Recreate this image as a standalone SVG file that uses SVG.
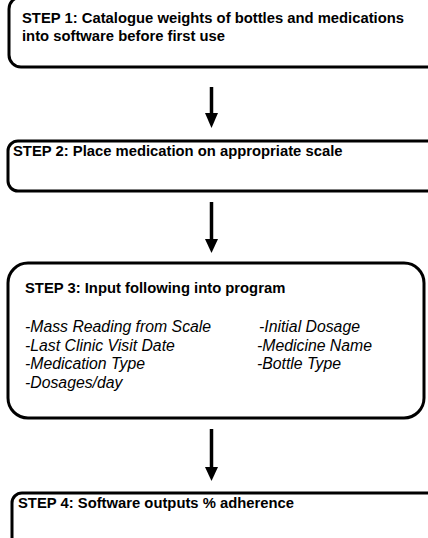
<svg xmlns="http://www.w3.org/2000/svg" width="428" height="538" viewBox="0 0 428 538">
<style>
.box{fill:#fff;stroke:#000;stroke-width:3}
.h{font-family:"Liberation Sans",Arial,sans-serif;font-size:14.8px;font-weight:bold;fill:#000}
.i{font-family:"Liberation Sans",Arial,sans-serif;font-size:15.8px;font-style:italic;fill:#000}
.ln{stroke:#000;stroke-width:3.5;fill:none}
</style>
<rect width="428" height="538" fill="#fff"/>
<g id="step1">
<rect class="box" x="9" y="-3" width="440" height="70" rx="12"/>
<text class="h" x="22" y="23">STEP 1: Catalogue weights of bottles and medications</text>
<text class="h" x="22" y="41">into software before first use</text>
</g>
<g id="step2">
<rect class="box" x="8" y="141" width="440" height="50" rx="10"/>
<text class="h" x="13" y="156">STEP 2: Place medication on appropriate scale</text>
</g>
<g id="step3">
<rect class="box" x="8" y="263" width="416" height="155" rx="20"/>
<text class="h" x="25" y="292.5">STEP 3: Input following into program</text>
<text class="i" x="25" y="332">-Mass Reading from Scale</text>
<text class="i" x="25" y="350.5">-Last Clinic Visit Date</text>
<text class="i" x="25" y="369">-Medication Type</text>
<text class="i" x="25" y="387.5">-Dosages/day</text>
<text class="i" x="259" y="332">-Initial Dosage</text>
<text class="i" x="257" y="350.5">-Medicine Name</text>
<text class="i" x="257" y="369">-Bottle Type</text>
</g>
<g id="step4">
<rect class="box" x="12" y="493" width="440" height="80" rx="10"/>
<text class="h" x="18" y="508">STEP 4: Software outputs % adherence</text>
</g>
<g id="connectors">
<line class="ln" x1="211.5" y1="87" x2="211.5" y2="115"/>
<polygon points="205,113 218,113 211.5,128"/>
<line class="ln" x1="211.5" y1="202" x2="211.5" y2="241"/>
<polygon points="205,239 218,239 211.5,253"/>
<line class="ln" x1="211.5" y1="429" x2="211.5" y2="469"/>
<polygon points="205,467 218,467 211.5,481"/>
</g>
</svg>
